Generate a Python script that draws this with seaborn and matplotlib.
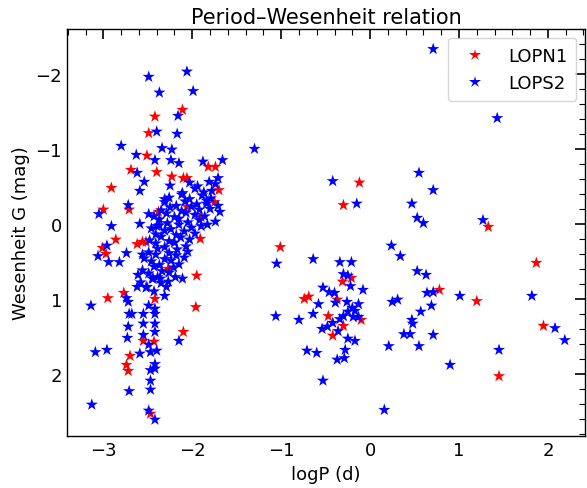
import numpy as np
import pandas as pd
import matplotlib
matplotlib.use("Agg")
import matplotlib.pyplot as plt
import seaborn as sns
from matplotlib.ticker import MultipleLocator

# ---------------- data ----------------
lopn1_logp = [
    -0.12, -0.30, -1.01, -0.74, -0.69, -0.37, -0.21, -0.31, -0.47, -0.10,
    -0.30, -0.42, 1.33, 0.78, 1.20, 1.87, 1.95, 1.45,
    -2.11, -2.42, -2.49, -2.51, -2.69, -2.40, -2.23, -2.10, -2.06, -1.82,
    -1.74, -1.70, -2.91, -3.00, -2.71, -2.38, -1.75, -2.86, -3.01, -2.97,
    -2.56, -2.52, -2.62, -1.95, -1.96, -2.95, -2.77, -2.42, -2.10, -2.55,
    -2.43, -2.70, -2.74, -2.72, -2.47, -2.27, -1.91, -2.06, -1.90,
]
lopn1_w = [
    -0.55, -0.25, 0.31, 1.00, 0.97, 1.01, 0.72, 0.77, 1.23, 1.28,
    1.36, 1.49, 0.04, 0.88, 1.03, 0.52, 1.36, 2.03,
    -1.52, -1.43, -1.21, -0.91, -0.72, -0.69, -0.63, -0.61, -0.61, -0.76,
    -0.76, -0.45, -0.48, -0.19, -0.19, -0.16, -0.29, 0.21, 0.32, 0.40,
    0.24, 0.24, 0.27, 0.69, 1.11, 0.99, 0.92, 1.00, 1.44, 1.56,
    1.57, 1.76, 1.88, 1.96, 2.53, 0.60, 0.20, -0.23, -0.09,
]

lops2_logp = [
    # long-period / outer region
    0.71, 1.43, -1.30, -0.42, -0.15, 0.71, 0.55, 0.47, 0.53, 0.60,
    1.27, 0.24, 0.34, -1.05, -0.64, -0.34, -0.21, -0.30, -0.25, -0.22,
    -0.53, -0.46, -0.40, -0.08, -0.58, -0.39, -0.26, -0.13, -0.20, -0.17,
    -0.64, -0.25, -0.30, -0.34, -0.19, -0.13, -1.06, -0.80, -0.42, -0.54,
    -0.48, -0.36, -0.25, -0.17, -0.71, -0.60, -0.28, -0.37, -0.29, -0.53,
    0.16, 0.25, 0.31, 0.53, 0.63, 0.64, 0.71, 0.69, 0.57, 0.47,
    0.48, 0.38, 0.45, 0.71, 0.55, 0.21, 1.01, 1.82, 2.08, 2.19,
    1.45, 0.90,
    # short-period scattered points
    -2.49, -2.06, -2.37, -1.99, -2.16, -2.40, -2.17, -2.80, -2.34, -2.23,
    -2.63, -2.42, -2.24, -2.15, -1.88, -1.66, -2.62, -1.71, -1.74, -2.54,
    -2.59, -1.78, -2.25, -2.31, -1.84, -2.72, -1.71, -1.69, -3.05, -2.91,
    -2.49, -2.59, -2.40, -1.83, -1.74, -2.96, -3.06, -2.94, -2.82, -2.74,
    -2.56, -2.61, -2.62, -2.51, -2.44, -2.36, -2.27, -2.11, -2.19, -2.31,
    -2.74, -2.72, -3.14, -2.49, -2.42, -2.71, -2.68, -2.55, -2.42, -2.72,
    -2.55, -2.42, -2.73, -2.55, -2.42, -2.49, -2.47, -2.40, -2.59, -3.09,
    -2.96, -2.15, -2.42, -2.47, -2.42, -2.47, -2.47, -2.71, -3.13, -2.49,
    -2.42,
    # dense core of the short-period group
    -2.03, -1.94, -1.81,
    -2.11, -1.97, -1.87,
    -2.26, -2.12, -2.03, -1.89, -1.79,
    -2.31, -2.18, -2.08, -1.95, -1.84,
    -2.35, -2.25, -2.12, -2.01, -1.92, -1.80,
    -2.43, -2.29, -2.20, -2.07, -1.97, -1.86,
    -2.37, -2.28, -2.15, -2.05, -1.92,
    -2.46, -2.37, -2.24, -2.15, -2.01, -1.90,
    -2.41, -2.31, -2.18, -2.09, -1.97,
    -2.48, -2.35, -2.26, -2.13, -2.03,
    -2.41, -2.31, -2.20, -2.07,
    -2.49, -2.39, -2.26, -2.17, -2.05,
    -2.54, -2.41, -2.31, -2.18, -2.09,
    -2.46, -2.37, -2.24, -2.15,
    -2.56, -2.43, -2.34, -2.21,
    -2.49, -2.39, -2.26,
    -2.58, -2.45, -2.35,
    -2.52, -2.43, -2.29,
]
lops2_w = [
    -2.33, -1.41, -1.00, -0.57, -0.27, -0.45, -0.68, -0.27, -0.08, -0.01,
    -0.05, 0.29, 0.43, 0.53, 0.47, 0.51, 0.51, 0.67, 0.69, 0.83,
    0.85, 0.91, 0.92, 0.88, 1.07, 1.05, 1.04, 1.07, 1.12, 1.16,
    1.20, 1.17, 1.23, 1.27, 1.24, 1.24, 1.23, 1.28, 1.32, 1.40,
    1.37, 1.43, 1.53, 1.56, 1.69, 1.72, 1.68, 1.81, 1.79, 2.09,
    2.48, 1.04, 1.01, 0.63, 0.68, 0.92, 0.91, 1.09, 1.17, 1.28,
    1.33, 1.47, 1.47, 1.48, 1.63, 1.63, 0.96, 0.96, 1.39, 1.55,
    1.68, 1.88,
    -1.96, -2.03, -1.75, -1.77, -1.44, -1.23, -1.20, -1.04, -1.01, -0.99,
    -0.92, -0.85, -0.85, -0.81, -0.83, -0.85, -0.68, -0.61, -0.53, -0.56,
    -0.44, -0.44, -0.51, -0.33, -0.31, -0.25, -0.24, -0.16, -0.13, 0.03,
    -0.13, 0.00, 0.03, 0.01, -0.03, 0.29, 0.43, 0.51, 0.51, 0.39,
    0.41, 0.68, 0.84, 0.84, 0.73, 0.73, 0.77, 0.73, 0.71, 0.96,
    0.99, 1.04, 1.09, 1.09, 1.13, 1.20, 1.20, 1.20, 1.20, 1.37,
    1.33, 1.33, 1.52, 1.48, 1.44, 1.61, 1.71, 1.69, 1.73, 1.71,
    1.68, 1.56, 1.87, 1.95, 1.93, 2.09, 2.21, 2.23, 2.41, 2.49,
    2.61,
    -0.55, -0.50, -0.56,
    -0.41, -0.47, -0.42,
    -0.35, -0.39, -0.33, -0.38, -0.34,
    -0.29, -0.24, -0.30, -0.26, -0.27,
    -0.18, -0.22, -0.17, -0.23, -0.19, -0.20,
    -0.10, -0.14, -0.09, -0.15, -0.12, -0.10,
    -0.06, -0.01, -0.07, -0.02, -0.05,
    0.06, 0.02, 0.07, 0.01, 0.05, 0.03,
    0.14, 0.09, 0.15, 0.10, 0.13,
    0.22, 0.17, 0.23, 0.18, 0.21,
    0.26, 0.31, 0.25, 0.30,
    0.38, 0.33, 0.39, 0.34, 0.37,
    0.46, 0.41, 0.47, 0.42, 0.45,
    0.50, 0.55, 0.49, 0.54,
    0.62, 0.57, 0.63, 0.58,
    0.66, 0.71, 0.65,
    0.78, 0.73, 0.79,
    0.85, 0.90, 0.84,
]

series_names = ["LOPN1", "LOPS2"]
series_colors = ["red", "blue"]

df = pd.DataFrame({
    "logP": lopn1_logp + lops2_logp,
    "W": lopn1_w + lops2_w,
    "field": [series_names[0]] * len(lopn1_logp) + [series_names[1]] * len(lops2_logp),
})

# ---------------- plot ----------------
sns.set_style("white")
plt.rcParams["font.family"] = ["DejaVu Sans"]
plt.rcParams["text.color"] = "black"
plt.rcParams["axes.labelcolor"] = "black"
plt.rcParams["xtick.color"] = "black"
plt.rcParams["ytick.color"] = "black"

fig = plt.figure(figsize=(5.87, 4.89), dpi=100)
ax = fig.add_axes([0.114, 0.106, 0.883, 0.833])

sns.scatterplot(
    data=df, x="logP", y="W", hue="field",
    hue_order=series_names, palette=dict(zip(series_names, series_colors)),
    marker="*", s=85, linewidth=0, ax=ax,
)

ax.set_xlim(-3.41, 2.42)
ax.set_ylim(2.83, -2.6)
ax.xaxis.set_major_locator(MultipleLocator(1))
ax.xaxis.set_minor_locator(MultipleLocator(0.2))
ax.yaxis.set_major_locator(MultipleLocator(1))
ax.yaxis.set_minor_locator(MultipleLocator(0.2))
ax.tick_params(which="both", direction="in", top=True, right=True,
               labelsize=13, color="black", labelcolor="black")
ax.tick_params(which="major", length=7, width=1.2)
ax.tick_params(which="minor", length=4, width=0.8)
for sp in ax.spines.values():
    sp.set_color("black")
    sp.set_linewidth(1.0)

ax.set_xlabel("logP (d)", fontsize=13, color="black")
ax.set_ylabel("Wesenheit G (mag)", fontsize=13, color="black")
ax.set_title("Period\u2013Wesenheit relation", fontsize=15, pad=4, color="black")

leg = ax.legend(loc="upper right", fontsize=13, markerscale=1.0,
                handletextpad=0.8, borderpad=0.5)
leg.set_title(None)
for t in leg.get_texts():
    t.set_color("black")

fig.savefig("out.png", dpi=100)
